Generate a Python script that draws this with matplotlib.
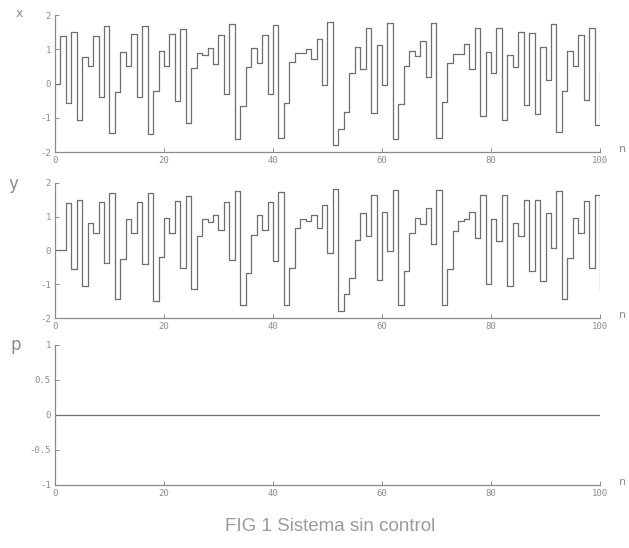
import numpy as np
import matplotlib
matplotlib.use("Agg")
import matplotlib.pyplot as plt

# valores (n = 0..100)
n = np.arange(101)

x = [0.00, 1.40, -0.57, 1.51, -1.06, 0.78, 0.51, 1.40, -0.38, 1.67,
     -1.45, -0.26, 0.92, 0.51, 1.44, -0.40, 1.68, -1.46, -0.21, 0.96,
     0.51, 1.45, -0.52, 1.60, -1.15, 0.45, 0.89, 0.83, 1.05, 0.58,
     1.41, -0.30, 1.74, -1.61, -0.66, 0.49, 1.03, 0.59, 1.41, -0.32,
     1.72, -1.58, -0.56, 0.63, 0.90, 0.88, 1.02, 0.72, 1.30, -0.05,
     1.79, -1.80, -1.32, -0.82, 0.31, 1.08, 0.41, 1.61, -0.86, 1.11,
     -0.03, 1.77, -1.61, -0.60, 0.51, 0.96, 0.80, 1.25, 0.20, 1.77,
     -1.60, -0.55, 0.59, 0.86, 0.85, 1.14, 0.42, 1.61, -0.96, 0.91,
     0.32, 1.61, -1.06, 0.84, 0.47, 1.49, -0.62, 1.48, -0.90, 1.08,
     0.10, 1.75, -1.43, -0.22, 0.96, 0.51, 1.43, -0.49, 1.61, -1.21,
     0.36]

y = [0.00, 0.00, 1.42, -0.56, 1.51, -1.05, 0.80, 0.52, 1.43, -0.36,
     1.71, -1.45, -0.25, 0.94, 0.52, 1.44, -0.41, 1.69, -1.50, -0.19,
     0.97, 0.52, 1.46, -0.51, 1.61, -1.15, 0.44, 0.92, 0.85, 1.06,
     0.62, 1.44, -0.27, 1.76, -1.60, -0.66, 0.47, 1.06, 0.62, 1.43,
     -0.32, 1.73, -1.60, -0.51, 0.67, 0.94, 0.87, 1.06, 0.67, 1.36,
     -0.07, 1.82, -1.80, -1.30, -0.81, 0.32, 1.11, 0.42, 1.63, -0.86,
     1.13, -0.02, 1.80, -1.60, -0.61, 0.52, 0.97, 0.77, 1.26, 0.18,
     1.78, -1.60, -0.56, 0.57, 0.87, 0.92, 1.13, 0.37, 1.63, -1.00,
     0.92, 0.28, 1.63, -1.05, 0.82, 0.44, 1.49, -0.61, 1.51, -0.91,
     1.11, 0.08, 1.76, -1.45, -0.22, 0.97, 0.52, 1.46, -0.51, 1.63,
     -1.20]

p = [0.0] * 101

xticks = [0, 20, 40, 60, 80, 100]
xy_ticks = [-2, -1, 0, 1, 2]
p_ticks = [-1, -0.5, 0, 0.5, 1]
p_ticklabels = ["-1", "-0.5", "0", "0.5", "1"]

line_col = "#6e6e6e"
axis_col = "#8a8a8a"
text_col = "#8c8c8c"
tick_font = {"family": "DejaVu Sans Mono", "size": 6.5, "color": text_col}

fig = plt.figure(figsize=(6.29, 5.48), dpi=100)

# posiciones de los tres ejes (fraccion de figura)
boxes = [
    [0.0874, 0.7226, 0.8665, 0.2500],
    [0.0874, 0.4197, 0.8665, 0.2464],
    [0.0874, 0.1150, 0.8665, 0.2555],
]
series = [x, y, p]
names = ["x", "y", "p"]
name_pos = [(0.030, 0.975, 9), (0.022, 0.665, 12), (0.025, 0.370, 12)]

for i, box in enumerate(boxes):
    ax = fig.add_axes(box)
    ax.step(n, series[i], where="post", color=line_col, lw=0.9)
    ax.set_xlim(0, 100)
    if i < 2:
        ax.set_ylim(-2, 2)
        ax.set_yticks(xy_ticks)
        ax.set_yticklabels([str(t) for t in xy_ticks], fontdict=tick_font)
    else:
        ax.set_ylim(-1, 1)
        ax.set_yticks(p_ticks)
        ax.set_yticklabels(p_ticklabels, fontdict=tick_font)
    ax.set_xticks(xticks)
    ax.set_xticklabels([str(t) for t in xticks], fontdict=tick_font)
    for s in ["top", "right"]:
        ax.spines[s].set_visible(False)
    for s in ["left", "bottom"]:
        ax.spines[s].set_color(axis_col)
        ax.spines[s].set_linewidth(0.9)
    ax.tick_params(direction="in", length=3, width=0.7, color=axis_col, pad=3)
    ax.set_facecolor("none")

    nx, ny, fs = name_pos[i]
    fig.text(nx, ny, names[i], color=text_col, fontsize=fs,
             family="DejaVu Sans", ha="center", va="center")
    fig.text(0.99, box[1] + 0.005, "n", color=text_col, fontsize=8,
             family="DejaVu Sans", ha="center", va="center")

fig.text(0.525, 0.040, "FIG 1 Sistema sin control", color="#9a9a9a",
         fontsize=13.5, family="Liberation Sans", ha="center", va="center")

fig.savefig("out.png", dpi=100)
